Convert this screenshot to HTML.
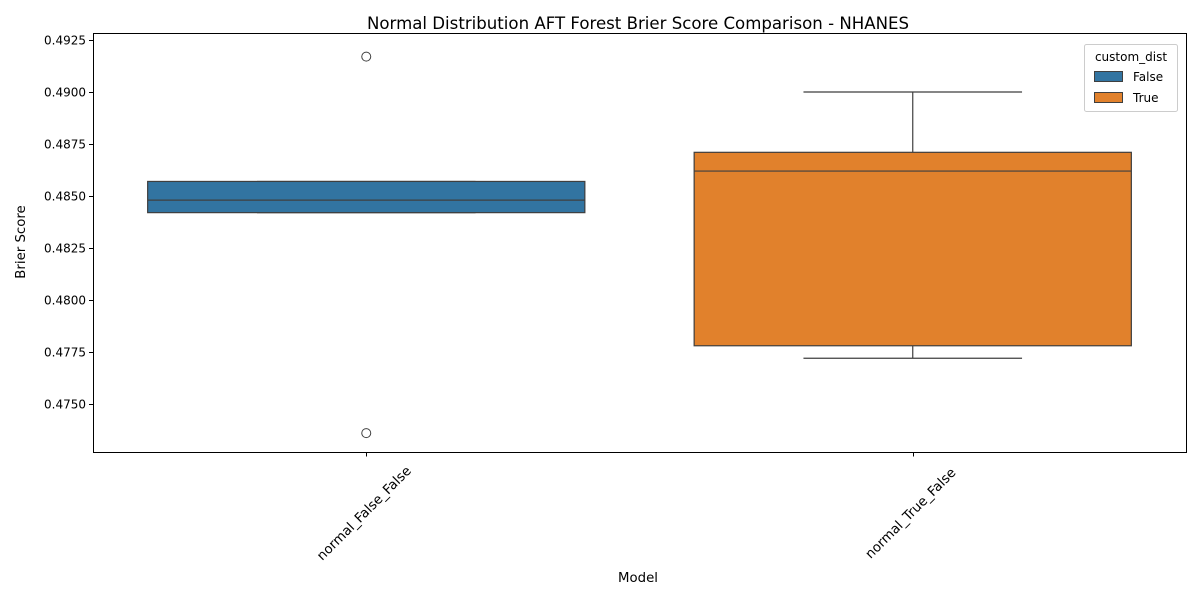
<!DOCTYPE html>
<html><head><meta charset="utf-8"><style>
body{margin:0;background:#fff;}
svg text{font-family:"DejaVu Sans","Liberation Sans",sans-serif;fill:#000;}
</style></head><body>
<svg width="1200" height="600" viewBox="0 0 1200 600">
<rect width="1200" height="600" fill="#fff"/>
<g id="plot"></g>
<text x="638" y="29" text-anchor="middle" font-size="16.6">Normal Distribution AFT Forest Brier Score Comparison - NHANES</text>
<text x="638" y="582" text-anchor="middle" font-size="13.3">Model</text>
<text transform="translate(25,242) rotate(-90)" text-anchor="middle" font-size="13.3">Brier Score</text>
<g>
<rect x="1084.5" y="44.5" width="93" height="67" rx="2" fill="#fff" stroke="#ccc"/>
<text x="1131" y="61" text-anchor="middle" font-size="12">custom_dist</text>
<rect x="1094.5" y="71.5" width="28" height="10" fill="#3274a1" stroke="#3f3f3f"/>
<text x="1133" y="81" font-size="12">False</text>
<rect x="1094.5" y="92.5" width="28" height="10" fill="#e1812c" stroke="#3f3f3f"/>
<text x="1133" y="102" font-size="12">True</text>
</g>
</svg>
<script>
const categories=["normal_False_False","normal_True_False"];
const q1s=[0.4842,0.4778];
const medians=[0.4848,0.4862];
const q3s=[0.4857,0.4871];
const whiskLo=[0.4842,0.4772];
const whiskHi=[0.4857,0.4900];
const outliers=[[0.4917,0.4736],[]];
const colors=["#3274a1","#e1812c"];
const yTicks=[0.4750,0.4775,0.4800,0.4825,0.4850,0.4875,0.4900,0.4925];

const NS="http://www.w3.org/2000/svg";
const L=93,R=1186,T=33.5,B=452.5;
function yS(v){return 196+(0.4850-v)*20800;}
function xS(i){return L+(R-L)*(i+0.5)/categories.length;}
const g=document.getElementById('plot');
function mk(t,a,p){const e=document.createElementNS(NS,t);for(const k in a)e.setAttribute(k,a[k]);(p||g).appendChild(e);return e;}

yTicks.forEach(v=>{
 const y=Math.round(yS(v))+0.5;
 const tk=mk('line',{x1:L-4,x2:L,y1:y,y2:y,stroke:'#000'});
 
 
 const t=mk('text',{x:L-7,y:y+4,'text-anchor':'end','font-size':12});
 
 
 t.textContent=v.toFixed(4);
});
const bw=(R-L)/categories.length*0.8;
categories.forEach((c,i)=>{
 const cx=xS(i);
 const capW=bw/2;
 const wl=mk('line',{x1:cx,x2:cx,y1:yS(whiskHi[i]),y2:yS(whiskLo[i]),stroke:'#3f3f3f','stroke-width':1.2});
 
 
 [whiskHi[i],whiskLo[i]].forEach(v=>{
  const cap=mk('line',{x1:cx-capW/2,x2:cx+capW/2,y1:yS(v),y2:yS(v),stroke:'#3f3f3f','stroke-width':1.2});
  
  
 });
 const box=mk('rect',{x:cx-bw/2,y:yS(q3s[i]),width:bw,height:yS(q1s[i])-yS(q3s[i]),fill:colors[i],stroke:'#3f3f3f','stroke-width':1.2});
 
 
 const md=mk('line',{x1:cx-bw/2,x2:cx+bw/2,y1:yS(medians[i]),y2:yS(medians[i]),stroke:'#3f3f3f','stroke-width':1.2});
 
 
 outliers[i].forEach(v=>{
  const o=mk('circle',{cx:cx,cy:yS(v),r:4.5,fill:'none',stroke:'#3f3f3f','stroke-width':1});
  
  
 });
 const tk=mk('line',{x1:Math.round(cx)+0.5,x2:Math.round(cx)+0.5,y1:B,y2:B+4,stroke:'#000'});
 
 
 const t=mk('text',{transform:`translate(${cx-2},${B+61}) rotate(-45)`,'text-anchor':'middle',y:4,'font-size':13.3});
 
 
 t.textContent=c;
});
const fr=mk('rect',{x:L+0.5,y:T,width:R-L,height:B-T,fill:'none',stroke:'#000','stroke-width':1});


</script>
</body></html>
